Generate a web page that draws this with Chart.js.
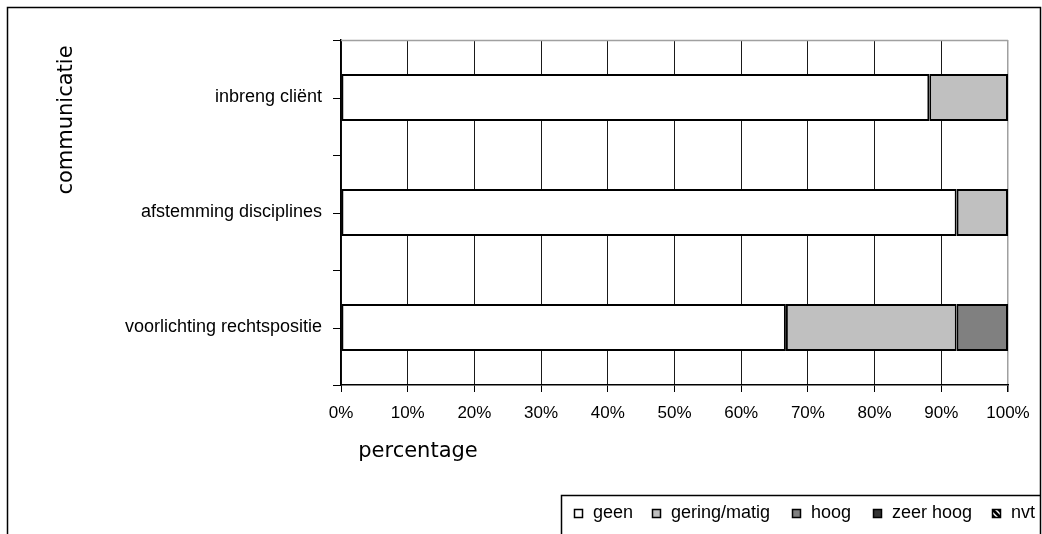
<!DOCTYPE html>
<html>
<head>
<meta charset="utf-8">
<script src="https://cdn.jsdelivr.net/npm/chart.js@4/dist/chart.umd.min.js"></script>
<style>
  html, body { margin: 0; padding: 0; background: #fff; }
  #wrap { width: 1042px; height: 534px; }
</style>
</head>
<body>
<div id="wrap"><canvas id="chart" width="1042" height="534"></canvas></div>
<script>
// data (percentages per category)
const categories = ['inbreng cliënt', 'afstemming disciplines', 'voorlichting rechtspositie'];
const seriesNames = ['geen', 'gering/matig', 'hoog', 'zeer hoog', 'nvt'];
const geen = [88.2, 92.3, 66.7];
const geringMatig = [11.8, 7.7, 25.6];
const hoog = [0, 0, 7.7];
const zeerHoog = [0, 0, 0];
const nvt = [0, 0, 0];
const xTicks = [0, 10, 20, 30, 40, 50, 60, 70, 80, 90, 100];

const yTitle = 'communicatie';
const xTitle = 'percentage';

// hatched fill for "nvt"
function hatch() {
  const c = document.createElement('canvas');
  c.width = 6; c.height = 6;
  const g = c.getContext('2d');
  g.fillStyle = '#000';
  g.fillRect(0, 0, 6, 6);
  g.strokeStyle = '#fff';
  g.lineWidth = 1.5;
  g.beginPath();
  g.moveTo(0, 0); g.lineTo(6, 6);
  g.moveTo(-3, 3); g.lineTo(3, 9);
  g.moveTo(3, -3); g.lineTo(9, 3);
  g.stroke();
  return g.createPattern(c, 'repeat');
}

const fills = ['#ffffff', '#c0c0c0', '#808080', '#333333', hatch()];
const values = [geen, geringMatig, hoog, zeerHoog, nvt];

const datasets = seriesNames.map((name, i) => ({
  label: name,
  data: values[i],
  backgroundColor: fills[i],
  borderColor: '#000',
  borderWidth: ctx => (ctx.raw ? 2 : 0),
  borderSkipped: false,
  barPercentage: 0.41,
  categoryPercentage: 1
}));

// frame, titles, centre ticks, plot border and legend
const decor = {
  id: 'decor',
  afterDraw(chart) {
    const { ctx, chartArea, scales } = chart;
    ctx.save();

    // outer frame
    ctx.strokeStyle = '#000';
    ctx.lineWidth = 1.5;
    ctx.beginPath();
    ctx.moveTo(7.5, 540); ctx.lineTo(7.5, 7.5); ctx.lineTo(1040.5, 7.5); ctx.lineTo(1040.5, 540);
    ctx.stroke();

    // grey plot border on top
    ctx.strokeStyle = '#a0a0a0';
    ctx.lineWidth = 1.5;
    ctx.beginPath();
    ctx.moveTo(chartArea.left, chartArea.top + 0.5);
    ctx.lineTo(chartArea.right, chartArea.top + 0.5);
    ctx.stroke();

    // tick marks at category centres
    ctx.strokeStyle = '#000';
    ctx.lineWidth = 1;
    const y = scales.y;
    categories.forEach((c, i) => {
      const py = Math.round(y.getPixelForValue(i)) + 0.5;
      ctx.beginPath();
      ctx.moveTo(chartArea.left - 8, py);
      ctx.lineTo(chartArea.left, py);
      ctx.stroke();
    });

    // axis titles
    ctx.fillStyle = '#000';
    ctx.font = '21px "DejaVu Sans"';
    ctx.textAlign = 'center';
    ctx.textBaseline = 'alphabetic';
    ctx.fillText(xTitle, 418, 457);
    ctx.save();
    ctx.translate(72, 120);
    ctx.rotate(-Math.PI / 2);
    ctx.fillText(yTitle, 0, 0);
    ctx.restore();

    // legend box
    ctx.strokeStyle = '#000';
    ctx.lineWidth = 1.5;
    ctx.beginPath();
    ctx.moveTo(561.5, 540); ctx.lineTo(561.5, 495.5); ctx.lineTo(1040.5, 495.5);
    ctx.stroke();

    const markerX = [574, 652, 792, 873, 992];
    ctx.font = '18px "Liberation Sans", Arial, sans-serif';
    ctx.textAlign = 'left';
    ctx.textBaseline = 'middle';
    chart.data.datasets.forEach((ds, i) => {
      const mx = markerX[i];
      ctx.fillStyle = ds.backgroundColor;
      ctx.fillRect(mx, 509, 9, 9);
      ctx.strokeStyle = '#000';
      ctx.lineWidth = 1.5;
      ctx.strokeRect(mx + 0.5, 509.5, 8, 8);
      ctx.fillStyle = '#000';
      ctx.fillText(ds.label, mx + 19, 513);
    });

    ctx.restore();
  }
};

new Chart(document.getElementById('chart'), {
  type: 'bar',
  data: { labels: categories, datasets },
  options: {
    indexAxis: 'y',
    responsive: false,
    animation: false,
    layout: { padding: { top: 40, right: 34, left: 0, bottom: 0 } },
    plugins: {
      legend: { display: false },
      tooltip: { enabled: false }
    },
    scales: {
      x: {
        stacked: true,
        min: 0,
        max: 100,
        afterFit: s => { s.height = 149; },
        afterBuildTicks: s => { s.ticks = xTicks.map(v => ({ value: v })); },
        ticks: {
          color: '#000',
          padding: 11,
          maxRotation: 0,
          font: { family: '"Liberation Sans", Arial, sans-serif', size: 17 },
          callback: v => v + '%'
        },
        grid: {
          color: ctx => (ctx.tick && ctx.tick.value === 100 ? '#a0a0a0' : '#1a1a1a'),
          lineWidth: ctx => (ctx.tick && ctx.tick.value === 100 ? 1.5 : 1),
          tickColor: '#000',
          tickLength: 7
        },
        border: { color: '#000', width: 1.5 }
      },
      y: {
        stacked: true,
        afterFit: s => { s.width = 341; },
        ticks: {
          color: '#000',
          padding: 11,
          font: { family: '"Liberation Sans", Arial, sans-serif', size: 18 }
        },
        grid: {
          offset: true,
          drawOnChartArea: false,
          tickColor: '#000',
          tickLength: 8
        },
        border: { color: '#000', width: 1.5 }
      }
    }
  },
  plugins: [decor]
});
</script>
</body>
</html>
